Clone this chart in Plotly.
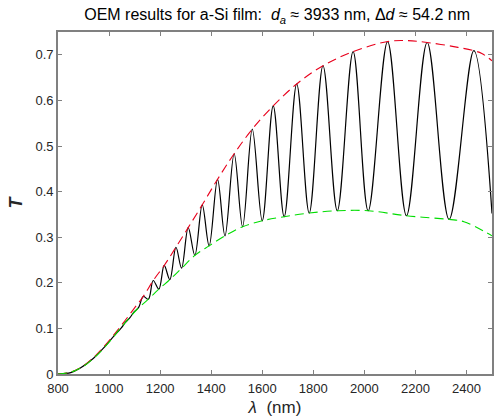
import plotly.graph_objects as go

# Black transmission curve: smooth low-wavelength part + fringe extrema
low_wl = [800, 850, 886, 938, 977, 1017, 1048, 1064, 1081, 1098, 1116]
low_T = [0.0, 0.003, 0.0125, 0.034, 0.056, 0.082, 0.101, 0.113, 0.123, 0.136, 0.146]

max_wl = [1134, 1173, 1216, 1262, 1310, 1365, 1425, 1490, 1561, 1643, 1735, 1838, 1956, 2091, 2246, 2429]
max_T = [0.170, 0.205, 0.238, 0.278, 0.321, 0.371, 0.427, 0.483, 0.537, 0.588, 0.636, 0.676, 0.707, 0.729, 0.727, 0.709]

min_wl = [1154, 1195, 1238, 1284, 1336, 1392, 1454, 1523, 1600, 1686, 1784, 1894, 2015, 2165, 2332, 2500]
min_T = [0.164, 0.186, 0.207, 0.232, 0.260, 0.281, 0.303, 0.323, 0.336, 0.345, 0.353, 0.358, 0.358, 0.347, 0.339, 0.352]

# Envelopes
up_wl = [800, 850, 900, 950, 1000, 1050, 1100, 1134, 1173, 1216, 1262, 1310, 1365, 1425, 1490, 1561, 1643, 1735, 1838, 1956, 2091, 2170, 2246, 2350, 2429, 2460, 2500]
up_T = [0.0, 0.004, 0.018, 0.042, 0.073, 0.108, 0.145, 0.170, 0.205, 0.238, 0.278, 0.321, 0.371, 0.427, 0.483, 0.537, 0.588, 0.636, 0.676, 0.707, 0.729, 0.731, 0.727, 0.718, 0.709, 0.703, 0.687]

lo_wl = [800, 850, 900, 950, 1000, 1050, 1110, 1154, 1195, 1238, 1284, 1336, 1392, 1454, 1523, 1600, 1686, 1784, 1894, 2015, 2165, 2332, 2390, 2500]
lo_T = [0.0, 0.004, 0.017, 0.040, 0.070, 0.104, 0.142, 0.164, 0.186, 0.207, 0.232, 0.260, 0.281, 0.303, 0.323, 0.336, 0.345, 0.353, 0.358, 0.358, 0.347, 0.339, 0.334, 0.303]

x_ticks = [800, 1000, 1200, 1400, 1600, 1800, 2000, 2200, 2400]
y_ticks = [0, 0.1, 0.2, 0.3, 0.4, 0.5, 0.6, 0.7]

pts = sorted(list(zip(low_wl, low_T)) + list(zip(max_wl, max_T)) + list(zip(min_wl, min_T)))
bx = [p[0] for p in pts]
by = [p[1] for p in pts]

fig = go.Figure()
fig.add_trace(go.Scatter(x=bx, y=by, mode="lines", line=dict(color="black", width=1.2, shape="spline", smoothing=1.0)))
fig.add_trace(go.Scatter(x=up_wl, y=up_T, mode="lines", line=dict(color="#e8001c", width=1.1, dash="9px,5px", shape="spline")))
fig.add_trace(go.Scatter(x=lo_wl, y=lo_T, mode="lines", line=dict(color="#00dd00", width=1.1, dash="9px,5px", shape="spline")))

axis_common = dict(
    showgrid=False, zeroline=False, showline=True, linecolor="#808080", linewidth=1.6,
    mirror="ticks", ticks="inside", ticklen=4, tickcolor="#808080", tickwidth=1,
    tickfont=dict(family="Liberation Sans, Arial", size=13, color="#262626"),
)

fig.update_layout(
    width=502, height=420,
    margin=dict(l=58, r=10, t=32, b=46, autoexpand=False),
    paper_bgcolor="white", plot_bgcolor="white",
    showlegend=False,
    title=dict(
        text="OEM results for a-Si film:  <i>d</i><sub><i>a</i></sub> ≈ 3933 nm, Δ<i>d</i> ≈ 54.2 nm",
        x=0.552, xanchor="center", y=0.978, yanchor="top",
        font=dict(family="Liberation Sans, Arial", size=16, color="black"),
    ),
    xaxis=dict(range=[800, 2500], tickvals=x_ticks, ticktext=[str(v) for v in x_ticks],
               ticklabelstandoff=2,
               title=dict(text="<i>λ</i>  (nm)", font=dict(family="Liberation Sans, Arial", size=17, color="#262626"), standoff=6),
               **axis_common),
    yaxis=dict(range=[0, 0.75], tickvals=y_ticks, ticktext=["0", "0.1", "0.2", "0.3", "0.4", "0.5", "0.6", "0.7"],
               title=dict(text="<b><i>T</i></b>", font=dict(family="Liberation Sans, Arial", size=18, color="#262626"), standoff=8),
               **axis_common),
)

fig.write_html("out.html")
